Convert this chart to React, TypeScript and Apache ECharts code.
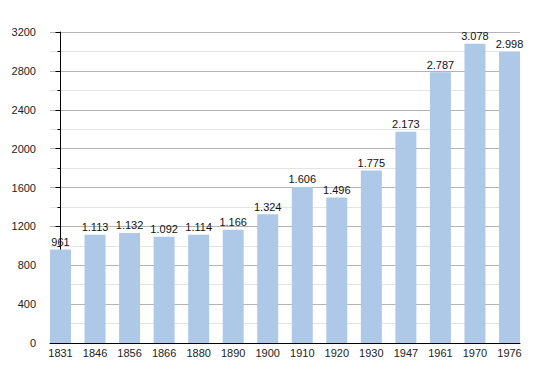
import React, { useEffect, useRef } from "react";
import * as echarts from "echarts";

const years = ["1831", "1846", "1856", "1866", "1880", "1890", "1900", "1910", "1920", "1930", "1947", "1961", "1970", "1976"];
const population = [961, 1113, 1132, 1092, 1114, 1166, 1324, 1606, 1496, 1775, 2173, 2787, 3078, 2998];

const fmt = (v: number) => {
  if (v < 1000) return String(v);
  const th = Math.floor(v / 1000);
  const rest = String(v % 1000).padStart(3, "0");
  return th + "." + rest;
};

export default function App() {
  const ref = useRef<HTMLDivElement>(null);
  useEffect(() => {
    if (!ref.current) return;
    const chart = echarts.init(ref.current, undefined, { renderer: "svg" });
    const font = "Liberation Sans";
    chart.setOption({
      animation: false,
      backgroundColor: "#ffffff",
      grid: { left: 50, right: 30, top: 32, bottom: 30, containLabel: false },
      xAxis: {
        type: "value",
        min: -0.304,
        max: years.length - 1 + 0.304,
        axisLine: { show: true, onZero: false, lineStyle: { color: "#000", width: 1 } },
        axisTick: { show: false },
        splitLine: { show: false },
        axisLabel: {
          customValues: years.map((_, i) => i),
          formatter: (v: number) => years[Math.round(v)] ?? "",
          color: "#222",
          fontFamily: font,
          fontSize: 11,
          margin: 4,
        },
      },
      yAxis: {
        type: "value",
        min: 0,
        max: 3200,
        interval: 400,
        axisLine: { show: true, lineStyle: { color: "#000", width: 1 } },
        axisTick: { show: true, length: 5, lineStyle: { color: "#000" } },
        minorTick: { show: true, splitNumber: 2, length: 3, lineStyle: { color: "#000" } },
        splitLine: { show: true, lineStyle: { color: "#b3b3b3", width: 1 } },
        minorSplitLine: { show: true, lineStyle: { color: "#e4e4e4", width: 1 } },
        axisLabel: {
          color: "#222",
          fontFamily: font,
          fontSize: 11,
          margin: 14,
          formatter: (v: number) => String(v),
        },
      },
      series: [
        {
          type: "bar",
          data: population.map((v, i) => [i, v]),
          barWidth: 21,
          itemStyle: { color: "#adc9e7" },
          label: {
            show: true,
            position: "top",
            distance: 2,
            color: "#111",
            fontFamily: font,
            fontSize: 11,
            formatter: (p: any) => fmt(p.value[1]),
          },
        },
      ],
    });
    return () => chart.dispose();
  }, []);
  return (
    <div
      ref={ref}
      style={{ position: "absolute", left: 0, top: 0, width: 550, height: 373 }}
    />
  );
}
